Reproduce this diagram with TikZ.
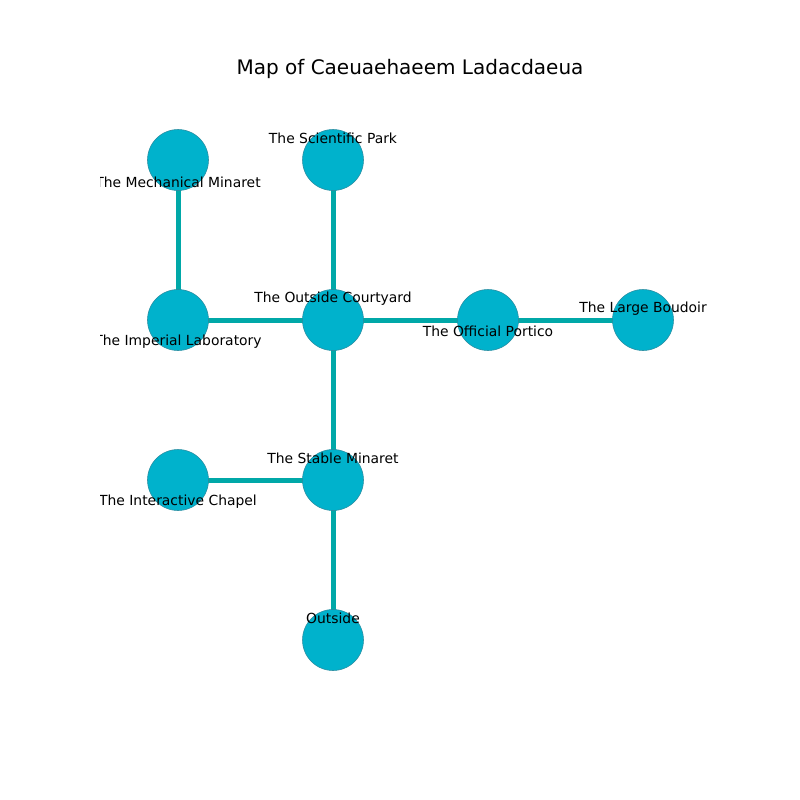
\documentclass[tikz,border=0pt]{standalone}
\usepackage{fontspec}
\setmainfont{DejaVu Sans}
\definecolor{nodefill}{RGB}{0,178,204}
\definecolor{nodeline}{RGB}{40,140,160}
\definecolor{edgecol}{RGB}{0,168,168}
\begin{document}
\begin{tikzpicture}[x=0.72pt,y=-0.72pt,
  room/.style={circle,fill=nodefill,draw=nodeline,line width=0.4pt,minimum size=61*0.72pt,inner sep=0pt},
  link/.style={draw=edgecol,line width=3.6pt},
  lab/.style={font=\fontsize{10pt}{12pt}\selectfont,inner sep=0pt,anchor=center}]
\useasboundingbox (0,0) rectangle (800,800);
\node[font=\fontsize{14.4pt}{17pt}\selectfont] (title) at (410,68.5) {Map of Caeuaehaeem Ladacdaeua};
\coordinate (mm) at (178,160);
\coordinate (sp) at (333,160);
\coordinate (il) at (178,320);
\coordinate (oc) at (333,320);
\coordinate (op) at (488,320);
\coordinate (lb) at (643,320);
\coordinate (ic) at (178,480);
\coordinate (sm) at (333,480);
\coordinate (out) at (333,640);
\draw[link] (mm) -- (il);
\draw[link] (sp) -- (oc);
\draw[link] (il) -- (oc);
\draw[link] (oc) -- (op);
\draw[link] (op) -- (lb);
\draw[link] (oc) -- (sm);
\draw[link] (ic) -- (sm);
\draw[link] (sm) -- (out);
\foreach \n in {mm,sp,il,oc,op,lb,ic,sm,out} \node[room] (c\n) at (\n) {};
\begin{scope}
\clip (100,0) rectangle (800,800);
\node[lab] (lmm) at (178,182) {The Mechanical Minaret};
\node[lab] (lsp) at (333,138) {The Scientific Park};
\node[lab] (loc) at (333,298.5) {The Outside Courtyard};
\node[lab] (lil) at (178,342) {The Imperial Laboratory};
\node[lab] (lop) at (488,331) {The Official Portico};
\node[lab] (llb) at (643,309) {The Large Boudoir};
\node[lab] (lsm) at (333,458) {The Stable Minaret};
\node[lab] (lic) at (178,502) {The Interactive Chapel};
\node[lab] (lout) at (333,618) {Outside};
\end{scope}
\end{tikzpicture}
\end{document}
